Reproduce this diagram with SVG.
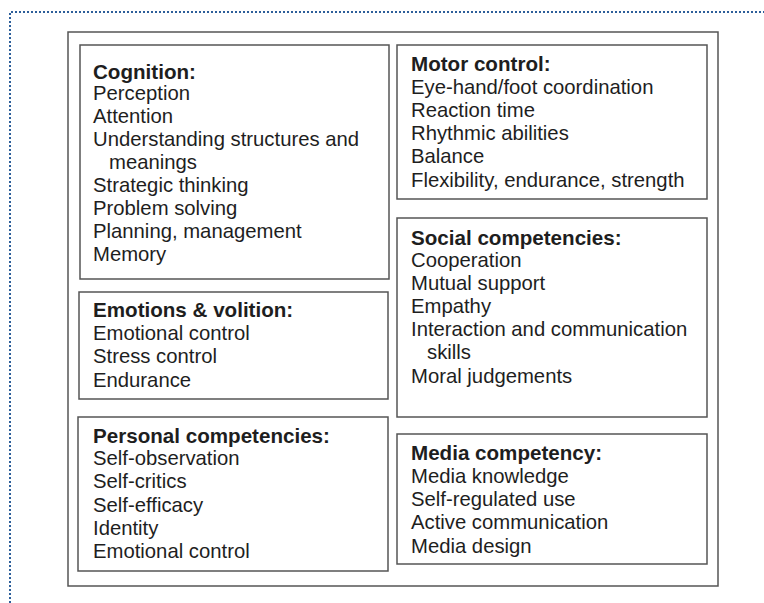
<svg xmlns="http://www.w3.org/2000/svg" width="764" height="603" viewBox="0 0 764 603">
  <style>
    .frame { fill: #ffffff; stroke: #555555; stroke-width: 1.5; }
    .box { fill: #ffffff; stroke: #555555; stroke-width: 1.5; }
    .t { font-family: "Liberation Sans", Arial, sans-serif; font-size: 20.3px; fill: #1e1e1e; }
    .h { font-weight: bold; font-size: 20.6px; }
    .edge { fill: none; stroke: #2d5f9a; stroke-width: 2; stroke-dasharray: 2 2; }
  </style>
  <rect width="764" height="603" fill="#ffffff"/>
  <!-- dotted page margin -->
  <path class="edge" d="M10 603 V12 H764"/>
  <!-- outer frame -->
  <rect class="frame" x="68" y="32" width="650" height="554"/>

  <g id="cognition">
    <rect class="box" x="80" y="45" width="309" height="234"/>
    <text class="t h" x="93" y="79">Cognition:</text>
    <text class="t" x="93" y="100">Perception</text>
    <text class="t" x="93" y="123">Attention</text>
    <text class="t" x="93" y="146">Understanding structures and</text>
    <text class="t" x="109" y="169">meanings</text>
    <text class="t" x="93" y="192">Strategic thinking</text>
    <text class="t" x="93" y="215">Problem solving</text>
    <text class="t" x="93" y="238">Planning, management</text>
    <text class="t" x="93" y="261">Memory</text>
  </g>

  <g id="emotions">
    <rect class="box" x="79" y="292" width="309" height="107"/>
    <text class="t h" x="93" y="317">Emotions &amp; volition:</text>
    <text class="t" x="93" y="340">Emotional control</text>
    <text class="t" x="93" y="363">Stress control</text>
    <text class="t" x="93" y="387">Endurance</text>
  </g>

  <g id="personal">
    <rect class="box" x="78" y="417" width="310" height="154"/>
    <text class="t h" x="93" y="443">Personal competencies:</text>
    <text class="t" x="93" y="465">Self-observation</text>
    <text class="t" x="93" y="488">Self-critics</text>
    <text class="t" x="93" y="512">Self-efficacy</text>
    <text class="t" x="93" y="535">Identity</text>
    <text class="t" x="93" y="558">Emotional control</text>
  </g>

  <g id="motor">
    <rect class="box" x="397" y="45" width="310" height="154"/>
    <text class="t h" x="411" y="71">Motor control:</text>
    <text class="t" x="411" y="94">Eye-hand/foot coordination</text>
    <text class="t" x="411" y="117">Reaction time</text>
    <text class="t" x="411" y="140">Rhythmic abilities</text>
    <text class="t" x="411" y="163">Balance</text>
    <text class="t" x="411" y="187">Flexibility, endurance, strength</text>
  </g>

  <g id="social">
    <rect class="box" x="397" y="218" width="310" height="199"/>
    <text class="t h" x="411" y="245">Social competencies:</text>
    <text class="t" x="411" y="267">Cooperation</text>
    <text class="t" x="411" y="290">Mutual support</text>
    <text class="t" x="411" y="313">Empathy</text>
    <text class="t" x="411" y="336">Interaction and communication</text>
    <text class="t" x="427" y="359">skills</text>
    <text class="t" x="411" y="383">Moral judgements</text>
  </g>

  <g id="media">
    <rect class="box" x="397" y="434" width="310" height="130"/>
    <text class="t h" x="411" y="460">Media competency:</text>
    <text class="t" x="411" y="483">Media knowledge</text>
    <text class="t" x="411" y="506">Self-regulated use</text>
    <text class="t" x="411" y="529">Active communication</text>
    <text class="t" x="411" y="553">Media design</text>
  </g>

  <g id="connectors"></g>
</svg>
